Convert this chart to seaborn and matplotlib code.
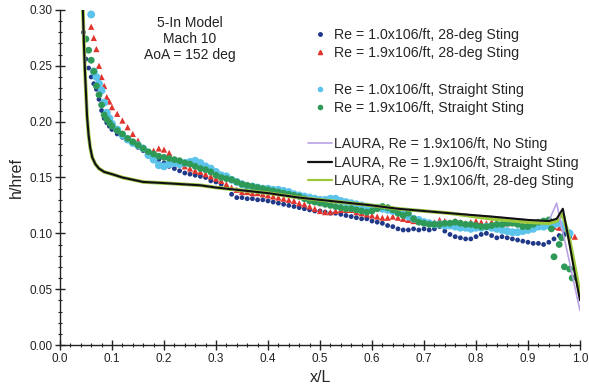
import matplotlib
matplotlib.use("Agg")
import matplotlib.pyplot as plt
from matplotlib.lines import Line2D
from matplotlib.ticker import MultipleLocator, FormatStrFormatter
import seaborn as sns

# ---- wind-tunnel data: 28-deg sting ----
x_re10_28 = [0.045, 0.050, 0.055, 0.060, 0.065, 0.070, 0.075, 0.080, 0.085, 0.090, 0.095, 0.100,
             0.11, 0.12, 0.13, 0.14, 0.15, 0.16, 0.17, 0.18, 0.19, 0.20, 0.21, 0.22, 0.23, 0.24,
             0.25, 0.26, 0.27, 0.28, 0.29, 0.30, 0.31, 0.32, 0.33, 0.34, 0.35, 0.36, 0.37, 0.38,
             0.39, 0.40, 0.41, 0.42, 0.43, 0.44, 0.45, 0.46, 0.47, 0.48, 0.49, 0.50, 0.51, 0.52,
             0.53, 0.54, 0.55, 0.56, 0.57, 0.58, 0.59, 0.60, 0.61, 0.62, 0.63, 0.64, 0.65, 0.66,
             0.67, 0.68, 0.69, 0.70, 0.71, 0.72, 0.73, 0.74, 0.75, 0.76, 0.77, 0.78, 0.79, 0.80,
             0.81, 0.82, 0.83, 0.84, 0.85, 0.86, 0.87, 0.88, 0.89, 0.90, 0.91, 0.92, 0.93, 0.94,
             0.95, 0.96, 0.97, 0.98]
h_re10_28 = [0.280, 0.256, 0.248, 0.240, 0.234, 0.229, 0.220, 0.210, 0.203, 0.199, 0.196, 0.193,
             0.189, 0.186, 0.183, 0.180, 0.177, 0.174, 0.171, 0.169, 0.166, 0.163, 0.160, 0.158, 0.156, 0.154,
             0.153, 0.152, 0.151, 0.150, 0.147, 0.146, 0.144, 0.141, 0.135, 0.132, 0.132, 0.131, 0.131, 0.130,
             0.130, 0.129, 0.128, 0.127, 0.126, 0.125, 0.124, 0.123, 0.122, 0.121, 0.120, 0.120, 0.119, 0.118,
             0.118, 0.117, 0.116, 0.115, 0.114, 0.113, 0.113, 0.111, 0.110, 0.109, 0.107, 0.106, 0.104, 0.103,
             0.103, 0.104, 0.103, 0.104, 0.103, 0.104, 0.106, 0.102, 0.099, 0.097, 0.096, 0.095, 0.095, 0.097,
             0.099, 0.100, 0.098, 0.096, 0.097, 0.096, 0.095, 0.094, 0.093, 0.092, 0.091, 0.091, 0.090, 0.092,
             0.095, 0.098, 0.099, 0.097]

x_re19_28 = [0.060, 0.065, 0.070, 0.075, 0.080, 0.085, 0.090, 0.095, 0.100,
             0.11, 0.12, 0.13, 0.14, 0.15, 0.16, 0.17, 0.18, 0.19, 0.20, 0.21, 0.22, 0.23, 0.24,
             0.25, 0.26, 0.27, 0.28, 0.29, 0.30, 0.31, 0.32, 0.33, 0.34, 0.35, 0.36, 0.37, 0.38,
             0.39, 0.40, 0.41, 0.42, 0.43, 0.44, 0.45, 0.46, 0.47, 0.48, 0.49, 0.50, 0.51, 0.52,
             0.53, 0.54, 0.55, 0.56, 0.57, 0.58, 0.59, 0.60, 0.61, 0.62, 0.63, 0.64, 0.65, 0.66,
             0.67, 0.68, 0.69, 0.70, 0.71, 0.72, 0.73, 0.74, 0.75, 0.76, 0.77, 0.78, 0.79, 0.80,
             0.81, 0.82, 0.83, 0.84, 0.85, 0.86, 0.87, 0.88, 0.89, 0.90, 0.91, 0.92, 0.93, 0.94,
             0.95, 0.96, 0.97, 0.98, 0.99]
h_re19_28 = [0.285, 0.275, 0.265, 0.250, 0.240, 0.232, 0.222, 0.218, 0.213,
             0.207, 0.201, 0.195, 0.189, 0.183, 0.177, 0.172, 0.174, 0.176, 0.175, 0.172, 0.166, 0.162, 0.160,
             0.158, 0.156, 0.155, 0.153, 0.151, 0.149, 0.147, 0.144, 0.141, 0.139, 0.137, 0.137, 0.136, 0.136,
             0.135, 0.134, 0.133, 0.132, 0.131, 0.130, 0.129, 0.127, 0.126, 0.124, 0.122, 0.120, 0.119, 0.119,
             0.120, 0.121, 0.121, 0.121, 0.119, 0.118, 0.117, 0.116, 0.115, 0.114, 0.114, 0.115, 0.114, 0.113,
             0.112, 0.111, 0.111, 0.111, 0.110, 0.110, 0.112, 0.111, 0.110, 0.111, 0.110, 0.109, 0.110, 0.111,
             0.110, 0.109, 0.110, 0.109, 0.108, 0.109, 0.110, 0.109, 0.108, 0.110, 0.109, 0.108, 0.108, 0.107,
             0.106, 0.105, 0.104, 0.101, 0.097]

# ---- wind-tunnel data: straight sting ----
x_re10_st = [0.060, 0.065, 0.070, 0.075, 0.080, 0.085, 0.090, 0.095, 0.100,
             0.11, 0.12, 0.13, 0.14, 0.15, 0.16, 0.17, 0.18, 0.19, 0.20, 0.21, 0.22, 0.23, 0.24,
             0.25, 0.26, 0.27, 0.28, 0.29, 0.30, 0.31, 0.32, 0.33, 0.34, 0.35, 0.36, 0.37, 0.38,
             0.39, 0.40, 0.41, 0.42, 0.43, 0.44, 0.45, 0.46, 0.47, 0.48, 0.49, 0.50, 0.51, 0.52,
             0.53, 0.54, 0.55, 0.56, 0.57, 0.58, 0.59, 0.60, 0.61, 0.62, 0.63, 0.64, 0.65, 0.66,
             0.67, 0.68, 0.69, 0.70, 0.71, 0.72, 0.73, 0.74, 0.75, 0.76, 0.77, 0.78, 0.79, 0.80,
             0.81, 0.82, 0.83, 0.84, 0.85, 0.86, 0.87, 0.88, 0.89, 0.90, 0.91, 0.92, 0.93, 0.94,
             0.95, 0.96, 0.97, 0.98]
h_re10_st = [0.296, 0.245, 0.240, 0.234, 0.228, 0.217, 0.208, 0.203, 0.198,
             0.193, 0.188, 0.184, 0.181, 0.179, 0.176, 0.170, 0.166, 0.161, 0.160, 0.162, 0.163, 0.162, 0.163,
             0.164, 0.165, 0.163, 0.160, 0.158, 0.155, 0.152, 0.151, 0.148, 0.146, 0.144, 0.142, 0.142, 0.141,
             0.140, 0.140, 0.139, 0.139, 0.138, 0.137, 0.135, 0.134, 0.133, 0.132, 0.131, 0.130, 0.130, 0.131,
             0.131, 0.129, 0.128, 0.127, 0.126, 0.125, 0.124, 0.123, 0.123, 0.122, 0.121, 0.120, 0.119, 0.117,
             0.115, 0.113, 0.112, 0.110, 0.109, 0.108, 0.108, 0.107, 0.107, 0.106, 0.105, 0.105, 0.104, 0.105,
             0.105, 0.106, 0.105, 0.104, 0.103, 0.102, 0.101, 0.101, 0.102, 0.103, 0.104, 0.106, 0.106, 0.107,
             0.108, 0.109, 0.105, 0.100]

x_re19_st = [0.050, 0.055, 0.060, 0.065, 0.070, 0.075, 0.080, 0.085, 0.090, 0.095, 0.100,
             0.11, 0.12, 0.13, 0.14, 0.15, 0.16, 0.17, 0.18, 0.19, 0.20, 0.21, 0.22, 0.23, 0.24,
             0.25, 0.26, 0.27, 0.28, 0.29, 0.30, 0.31, 0.32, 0.33, 0.34, 0.35, 0.36, 0.37, 0.38,
             0.39, 0.40, 0.41, 0.42, 0.43, 0.44, 0.45, 0.46, 0.47, 0.48, 0.49, 0.50, 0.51, 0.52,
             0.53, 0.54, 0.55, 0.56, 0.57, 0.58, 0.59, 0.60, 0.61, 0.62, 0.63, 0.64, 0.65, 0.66,
             0.67, 0.68, 0.69, 0.70, 0.71, 0.72, 0.73, 0.74, 0.75, 0.76, 0.77, 0.78, 0.79, 0.80,
             0.81, 0.82, 0.83, 0.84, 0.85, 0.86, 0.87, 0.88, 0.89, 0.90, 0.91, 0.92, 0.93, 0.94,
             0.945, 0.95, 0.96, 0.965, 0.97, 0.98, 0.985]
h_re19_st = [0.274, 0.264, 0.255, 0.245, 0.232, 0.224, 0.215, 0.206, 0.202, 0.199, 0.196,
             0.192, 0.189, 0.185, 0.182, 0.179, 0.176, 0.173, 0.171, 0.169, 0.168, 0.167, 0.166, 0.165, 0.163,
             0.162, 0.160, 0.158, 0.157, 0.155, 0.152, 0.150, 0.149, 0.148, 0.146, 0.144, 0.143, 0.142, 0.141,
             0.140, 0.139, 0.138, 0.137, 0.136, 0.135, 0.134, 0.133, 0.131, 0.129, 0.128, 0.127, 0.126, 0.125,
             0.124, 0.123, 0.122, 0.122, 0.121, 0.120, 0.119, 0.120, 0.122, 0.124, 0.123, 0.121, 0.118, 0.116,
             0.118, 0.113, 0.110, 0.109, 0.108, 0.108, 0.108, 0.109, 0.109, 0.110, 0.109, 0.108, 0.108, 0.107,
             0.106, 0.106, 0.107, 0.108, 0.108, 0.109, 0.109, 0.108, 0.106, 0.106, 0.108, 0.110, 0.111, 0.112,
             0.104, 0.079, 0.090, 0.096, 0.070, 0.068, 0.060]

# ---- LAURA computations ----
x_laura = [0.044, 0.046, 0.048, 0.050, 0.052, 0.055, 0.058, 0.062, 0.068, 0.075, 0.085, 0.100,
           0.12, 0.16, 0.20, 0.27, 0.30, 0.40, 0.46, 0.50, 0.60, 0.65, 0.70, 0.75, 0.83, 0.90,
           0.94, 0.955, 0.967, 0.98, 0.99, 1.00]
h_laura_nosting = [0.300, 0.270, 0.245, 0.225, 0.205, 0.188, 0.177, 0.168, 0.162, 0.158, 0.155, 0.153,
                   0.150, 0.146, 0.145, 0.143, 0.141, 0.136, 0.132, 0.130, 0.125, 0.122, 0.120, 0.118, 0.115, 0.112,
                   0.111, 0.127, 0.101, 0.074, 0.052, 0.031]
h_laura_straight = [0.300, 0.270, 0.245, 0.225, 0.205, 0.188, 0.177, 0.168, 0.162, 0.158, 0.155, 0.153,
                    0.150, 0.146, 0.145, 0.143, 0.141, 0.136, 0.132, 0.130, 0.125, 0.122, 0.120, 0.118, 0.115, 0.112,
                    0.111, 0.113, 0.122, 0.090, 0.064, 0.040]
h_laura_28deg = [0.300, 0.270, 0.245, 0.225, 0.205, 0.188, 0.177, 0.168, 0.162, 0.158, 0.155, 0.153,
                 0.150, 0.146, 0.145, 0.143, 0.141, 0.136, 0.132, 0.130, 0.125, 0.122, 0.120, 0.118, 0.113, 0.110,
                 0.109, 0.111, 0.117, 0.094, 0.070, 0.045]

labels = ["Re = 1.0x106/ft, 28-deg Sting",
          "Re = 1.9x106/ft, 28-deg Sting",
          "Re = 1.0x106/ft, Straight Sting",
          "Re = 1.9x106/ft, Straight Sting",
          "LAURA, Re = 1.9x106/ft, No Sting",
          "LAURA, Re = 1.9x106/ft, Straight Sting",
          "LAURA, Re = 1.9x106/ft, 28-deg Sting"]

c_navy = "#1f3888"
c_red = "#e0342c"
c_cyan = "#5cc3ea"
c_green = "#2f9a58"
c_purple = "#b9a2e6"
c_black = "#111111"
c_lime = "#9bc93a"

sns.set_style("ticks")
plt.rcParams["font.family"] = ["Liberation Sans", "DejaVu Sans"]

fig = plt.figure(figsize=(5.89, 3.89), dpi=100)
ax = fig.add_axes([60 / 589, 44 / 389, 520 / 589, 335 / 389])

sns.scatterplot(x=x_re10_28, y=h_re10_28, ax=ax, color=c_navy, marker="o", s=12,
                edgecolor="none", legend=False, zorder=3)
sns.scatterplot(x=x_re19_28, y=h_re19_28, ax=ax, color=c_red, marker="^", s=20,
                edgecolor="none", legend=False, zorder=3)
sns.scatterplot(x=x_re10_st, y=h_re10_st, ax=ax, color=c_cyan, marker="o", s=32,
                edgecolor="none", legend=False, zorder=3)
sns.scatterplot(x=x_re19_st, y=h_re19_st, ax=ax, color=c_green, marker="o", s=24,
                edgecolor="none", legend=False, zorder=3)

sns.lineplot(x=x_laura, y=h_laura_28deg, ax=ax, color=c_lime, lw=2.6, sort=False,
             estimator=None, legend=False, zorder=4)
sns.lineplot(x=x_laura, y=h_laura_nosting, ax=ax, color=c_purple, lw=1.2, sort=False,
             estimator=None, legend=False, zorder=5)
sns.lineplot(x=x_laura, y=h_laura_straight, ax=ax, color=c_black, lw=1.5, sort=False,
             estimator=None, legend=False, zorder=6)

ax.set_xlim(0, 1.0)
ax.set_ylim(0, 0.30)
ax.xaxis.set_major_locator(MultipleLocator(0.1))
ax.xaxis.set_minor_locator(MultipleLocator(0.02))
ax.yaxis.set_major_locator(MultipleLocator(0.05))
ax.yaxis.set_minor_locator(MultipleLocator(0.01))
ax.xaxis.set_major_formatter(FormatStrFormatter("%.1f"))
ax.yaxis.set_major_formatter(FormatStrFormatter("%.2f"))
ax.tick_params(which="major", direction="inout", length=7, width=1.0, labelsize=8.5,
               colors="#222222", pad=2)
ax.tick_params(which="minor", direction="inout", length=3.5, width=0.8, colors="#222222")
sns.despine(ax=ax)
for sp in ("left", "bottom"):
    ax.spines[sp].set_linewidth(1.0)
    ax.spines[sp].set_color("#222222")

ax.set_xlabel("x/L", fontsize=11.5, labelpad=4)
ax.set_ylabel("h/href", fontsize=11.5, labelpad=4)

ax.text(0.25, 0.274, "5-In Model\nMach 10\nAoA = 152 deg", ha="center", va="center",
        fontsize=10, linespacing=1.15, color="#222222")

blank = Line2D([], [], linestyle="none")
handles = [
    Line2D([], [], linestyle="none", marker="o", markersize=2.5, color=c_navy),
    Line2D([], [], linestyle="none", marker="^", markersize=3, color=c_red),
    blank,
    Line2D([], [], linestyle="none", marker="o", markersize=3, color=c_cyan),
    Line2D([], [], linestyle="none", marker="o", markersize=3, color=c_green),
    blank,
    Line2D([], [], color=c_purple, lw=1.2),
    Line2D([], [], color=c_black, lw=1.6),
    Line2D([], [], color=c_lime, lw=1.6),
]
leg_labels = labels[:2] + [""] + labels[2:4] + [""] + labels[4:]
ax.legend(handles, leg_labels, loc="upper left", bbox_to_anchor=(0.477, 0.947),
          frameon=False, fontsize=10.2, handlelength=1.7, handletextpad=0.15,
          labelspacing=0.3, borderpad=0, borderaxespad=0)

fig.savefig("out.png", dpi=100)
